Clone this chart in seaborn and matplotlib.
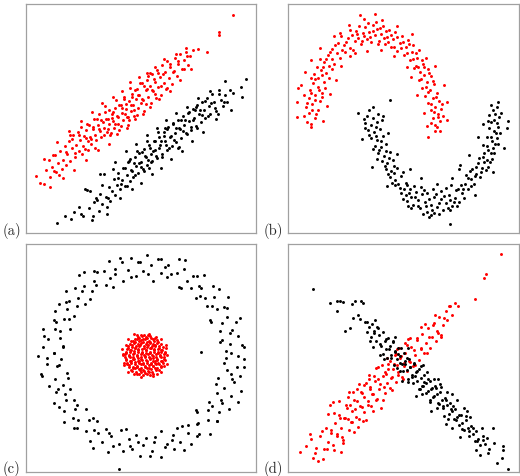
import numpy as np
import pandas as pd
import seaborn as sns
import matplotlib
matplotlib.use("Agg")
import matplotlib.pyplot as plt

# point clouds, (x, y) on a 0-100 grid per panel

# (a) two parallel elongated clouds
a_red = [(4.5,25.0),(7.8,21.5),(8.5,27.6),(9.9,31.8),(10.4,24.5),(11.2,29.0),(12.6,33.9),(13.1,26.7),
         (13.9,30.4),(14.8,35.6),(15.5,27.9),(16.2,32.0),(16.9,37.8),(17.4,29.8),(18.0,34.5),(18.8,40.2),
         (19.3,31.5),(19.9,36.9),(20.5,42.6),(21.1,33.2),(21.8,38.4),(22.4,44.0),(22.9,35.9),(23.5,40.8),
         (24.0,46.1),(24.6,38.0),(25.1,42.5),(25.7,36.6),(26.2,44.9),(26.8,40.3),(27.3,47.3),(27.9,42.0),
         (28.4,38.9),(29.0,45.5),(29.5,49.9),(30.1,43.0),(30.6,40.6),(31.2,47.0),(31.7,51.8),(32.3,44.6),
         (32.8,42.1),(33.4,48.6),(33.9,46.0),(34.5,53.0),(35.0,44.3),(35.6,50.0),(36.1,47.4),(36.7,42.9),
         (37.2,52.1),(37.8,49.0),(38.3,45.8),(38.9,54.6),(39.4,50.9),(40.0,47.6),(40.5,44.9),(41.1,56.0),
         (41.6,52.5),(42.2,49.3),(42.7,58.7),(43.3,54.0),(43.8,50.6),(44.4,47.2),(44.9,57.5),(45.5,53.3),
         (46.0,60.8),(46.6,55.9),(47.1,51.0),(47.7,58.4),(48.2,63.0),(48.8,54.7),(49.3,60.2),(49.9,56.6),
         (50.4,65.4),(51.0,58.1),(51.5,53.4),(52.1,62.3),(52.6,67.0),(53.2,59.5),(53.7,64.4),(54.3,56.8),
         (54.8,69.4),(55.4,61.8),(55.9,66.0),(56.5,58.9),(57.0,71.2),(57.6,63.6),(58.1,68.2),(58.7,60.4),
         (59.2,73.4),(59.8,65.3),(60.3,70.1),(60.9,62.7),(61.4,75.0),(62.0,67.5),(62.6,72.5),(63.3,64.9),
         (64.0,70.3),(64.8,76.3),(65.5,68.4),(66.3,73.6),(67.1,78.2),(68.0,71.5),(68.8,75.5),(69.7,79.0),
         (70.6,73.2),(71.5,77.4),(72.4,80.1),(78.9,79.1),(84.0,87.9),(84.1,86.5),(90.1,95.2),
         (6.2,21.9),(11.8,34.0),(14.3,25.4),(17.6,35.5),(19.0,42.7),(21.5,35.1),(23.2,42.6),(24.4,34.6),
         (25.9,41.4),(26.6,47.6),(28.1,40.9),(29.3,46.3),(30.2,37.1),(31.0,50.0),(31.9,45.2),(32.6,49.5),
         (33.7,42.7),(34.2,55.5),(34.8,49.8),(35.5,45.6),(36.3,53.9),(36.9,43.8),(37.5,50.2),(38.0,52.9),
         (38.7,47.5),(39.2,58.1),(39.9,50.8),(40.4,56.1),(41.3,46.6),(41.9,54.5),(42.4,59.5),(43.1,52.0),
         (43.6,56.5),(44.2,50.6),(45.0,63.2),(45.7,55.9),(46.3,59.3),(47.0,53.8),(47.5,62.4),(48.1,51.6),
         (48.9,60.3),(49.6,65.7),(50.3,58.3),(51.2,64.2),(52.0,56.3),(52.8,62.7),(53.9,70.0),(54.6,62.3),
         (55.5,67.1),(56.3,60.9),(57.4,70.0),(58.6,64.2),(59.5,69.4),(61.1,63.4),(62.8,73.8),(64.5,70.8),
         (66.0,74.9),(68.5,71.5),(70.1,77.4),(74.8,80.4)]
a_red_outer = [(8.0,32.5),(10.5,20.0),(13.5,39.7),(16.0,23.9),(18.5,44.4),(21.0,27.3),(23.8,49.1),
               (26.3,31.8),(28.8,52.7),(31.4,36.4),(33.0,56.9),(35.9,38.9),(37.7,59.4),(39.6,43.2),
               (41.8,61.9),(43.9,45.8),(45.3,66.0),(47.3,49.6),(49.1,68.0),(50.9,51.8),(52.4,70.0),
               (54.1,55.2),(56.1,72.7),(58.0,58.5),(60.2,75.8),(62.4,62.1),(65.1,78.2),(67.0,66.9),
               (69.5,80.9),(71.9,71.4),(12.0,27.2),(20.0,40.9),(27.0,36.1),(44.8,49.5),(53.2,68.6)]
a_black = [(13.4,4.2),(19.5,6.3),(20.7,9.1),(22.9,11.5),(24.8,7.6),(26.5,18.8),(27.4,10.9),(28.7,5.8),
           (29.6,13.4),(30.9,14.2),(31.6,9.7),(32.3,17.1),(33.1,12.5),(33.8,25.8),(34.6,15.8),(35.2,8.3),
           (35.9,20.2),(36.7,14.1),(37.4,18.4),(38.1,23.6),(38.8,16.5),(39.5,21.0),(40.2,26.4),(40.9,19.0),
           (41.6,23.3),(42.3,28.5),(43.0,20.6),(43.7,25.4),(44.4,31.2),(45.1,22.7),(45.8,27.6),(46.5,24.5),
           (47.2,33.0),(47.9,29.3),(48.6,26.0),(49.3,35.1),(50.0,31.0),(50.7,27.8),(51.4,36.5),(52.1,33.2),
           (52.8,29.6),(53.5,38.4),(54.2,34.7),(54.9,31.3),(55.6,40.1),(56.3,36.4),(57.0,32.9),(57.7,42.0),
           (58.4,38.3),(59.1,34.6),(59.8,44.2),(60.5,40.0),(61.2,36.1),(61.9,46.3),(62.6,41.8),(63.3,37.9),
           (64.0,47.5),(64.7,43.6),(65.4,39.7),(66.1,49.3),(66.8,45.2),(67.5,41.6),(68.2,51.0),(68.9,47.1),
           (69.6,43.5),(70.3,52.6),(71.0,48.8),(71.7,45.0),(72.4,54.3),(73.1,50.2),(73.8,46.9),(74.5,56.0),
           (75.2,52.0),(75.9,48.6),(76.6,57.4),(77.3,53.9),(78.0,50.1),(78.7,59.0),(79.4,55.3),(80.1,51.8),
           (80.9,60.5),(81.7,57.0),(82.5,53.2),(83.3,52.1),(84.0,62.3),(84.8,58.2),(85.7,55.4),(86.6,60.4),
           (87.5,57.1),(89.1,53.6),(90.0,61.2),(93.4,63.8),(93.7,59.4),(95.6,67.2),
           (17.0,7.3),(24.0,8.2),(27.9,18.5),(30.3,15.5),(33.0,21.1),(35.6,15.5),(37.9,27.8),(39.8,24.1),
           (41.4,21.2),(42.9,28.2),(44.0,20.5),(45.3,32.5),(46.1,27.2),(46.9,30.4),(47.6,25.5),(48.3,35.6),
           (49.0,30.7),(49.8,28.8),(50.5,35.3),(51.1,26.9),(51.8,33.7),(52.4,40.1),(53.1,31.9),(53.8,37.2),
           (54.5,30.8),(55.2,35.9),(55.9,40.1),(56.6,33.8),(57.3,44.3),(57.9,36.9),(58.6,40.1),(59.3,33.1),
           (60.0,42.5),(60.8,38.3),(61.5,45.3),(62.2,37.3),(63.0,42.4),(63.7,48.1),(64.4,40.5),(65.1,45.8),
           (65.9,37.3),(66.7,45.7),(67.4,49.3),(68.2,44.6),(69.0,49.2),(69.9,43.2),(70.7,52.8),(71.6,46.3),
           (72.5,49.5),(73.5,53.6),(74.4,45.8),(75.5,53.6),(76.6,51.6),(77.8,57.8),(79.1,51.2),(80.5,56.6),
           (82.0,54.8),(83.8,60.9),(86.0,57.3),(88.5,62.3)]
a_black_outer = [(25.5,19.1),(29.0,7.3),(32.0,25.7),(35.0,11.5),(38.5,31.0),(41.0,15.3),(43.5,35.6),
                 (46.0,19.0),(48.0,38.7),(50.2,21.8),(52.5,43.0),(54.7,25.7),(56.9,45.9),(58.9,28.3),
                 (61.0,49.4),(63.1,32.5),(65.4,52.2),(67.8,35.8),(70.0,55.2),(72.3,40.2),(74.9,58.8),
                 (77.1,44.3),(79.9,62.1),(82.8,50.0),(86.5,66.4),(44.7,31.3),(53.4,28.2),(60.3,45.7),
                 (66.4,37.5),(73.9,55.0)]

# (b) two interleaved half moons
b_red = [(10.1,46.4),(8.2,48.5),(11.6,50.1),(9.0,52.3),(12.8,53.6),(7.6,54.9),(10.5,56.2),(13.9,57.5),
         (8.9,58.8),(11.8,60.1),(14.6,61.3),(9.7,62.6),(4.3,63.3),(12.9,63.9),(10.8,65.4),(15.4,66.1),
         (13.0,67.9),(11.2,69.3),(16.6,69.8),(14.3,71.2),(12.4,72.6),(17.9,73.0),(15.6,74.5),(13.8,75.9),
         (19.2,76.1),(17.1,77.8),(21.0,78.4),(19.0,80.5),(23.4,80.1),(21.8,82.8),(25.2,83.5),(23.1,85.9),
         (26.9,81.0),(27.5,86.3),(28.8,83.7),(29.6,88.4),(30.4,85.1),(31.2,95.2),(31.8,82.6),(32.5,87.2),
         (33.4,89.9),(34.1,84.9),(35.0,87.8),(35.9,83.3),(36.6,90.8),(37.7,95.5),(37.5,86.4),(38.6,88.9),
         (39.4,84.0),(40.3,87.1),(41.2,90.3),(42.0,82.7),(42.9,85.8),(43.8,88.5),(44.7,81.4),(45.6,84.5),
         (46.5,87.7),(47.4,79.6),(48.3,82.9),(49.2,86.1),(50.1,77.8),(51.0,81.3),(51.8,84.2),(52.7,75.5),
         (53.5,79.0),(54.3,82.0),(55.2,73.0),(56.0,76.6),(56.8,79.8),(57.3,70.1),(58.4,73.8),(59.6,76.5),
         (56.6,66.9),(58.9,69.0),(60.5,71.7),(58.1,63.4),(60.2,65.8),(61.9,68.4),(59.3,60.0),(61.3,62.4),
         (63.1,64.9),(60.7,56.9),(62.6,58.8),(64.4,61.3),(61.8,53.5),(63.7,55.2),(65.5,57.6),(62.9,50.1),
         (64.8,51.9),(66.4,54.0),(63.6,47.2),(65.6,48.8),(60.4,42.0),(63.8,44.5),(65.9,44.5),
         (9.9,47.8),(6.9,51.0),(12.1,51.9),(10.3,53.9),(8.1,56.9),(11.9,58.2),(14.8,59.2),(7.0,60.2),
         (10.1,61.0),(13.4,62.3),(16.2,63.5),(11.5,67.1),(14.6,69.0),(9.8,67.5),(17.7,67.9),(15.1,72.7),
         (18.9,71.6),(20.1,74.0),(16.4,76.2),(18.3,79.0),(22.3,76.5),(20.4,82.1),(24.5,78.9),(24.1,82.3),
         (26.0,85.0),(22.6,87.4),(28.2,80.0),(27.0,88.8),(29.9,86.9),(30.9,90.2),(33.0,86.0),(32.1,83.9),
         (34.7,91.5),(35.4,85.7),(36.9,88.1),(38.1,92.3),(39.0,82.5),(40.0,89.4),(41.6,85.2),(42.6,88.0),
         (43.3,83.6),(44.4,86.4),(46.1,81.3),(47.0,85.5),(48.8,80.6),(49.7,83.4),(51.4,78.5),(52.3,82.6),
         (54.0,76.1),(55.6,78.4),(54.6,71.9),(57.8,75.5),(56.2,72.6),(59.0,72.4),(57.7,67.4),(61.0,69.9),
         (59.9,63.8),(62.9,66.5),(60.5,61.5),(64.0,59.3),(62.0,56.2),(66.7,56.4),(63.2,53.0),(65.0,50.6),
         (67.2,51.2),(62.1,48.0),(64.6,46.3)]
b_red_outer = [(4.0,50.5),(15.3,49.0),(3.8,57.0),(16.8,55.5),(5.5,64.8),(18.2,60.6),(7.2,70.2),(20.6,67.0),
               (10.1,75.5),(22.9,72.8),(13.9,80.6),(26.8,77.3),(19.8,86.0),(29.0,78.5),(26.2,91.0),
               (34.2,79.4),(33.0,93.6),(40.1,79.8),(40.8,93.0),(46.0,77.2),(47.3,90.6),(51.4,72.6),
               (53.8,86.9),(53.3,68.0),(63.7,73.0),(56.0,60.3),(67.5,64.6),(58.7,52.6),(69.0,57.4),
               (60.2,46.8),(68.7,49.5)]
b_black = [(44.2,58.1),(37.0,55.2),(34.2,51.3),(36.9,50.4),(39.1,52.0),(33.5,48.2),(35.8,47.1),(38.4,48.6),
           (40.6,49.4),(34.6,44.9),(37.2,44.0),(39.7,45.3),(36.1,41.6),(38.6,40.7),(41.2,42.3),(37.7,38.2),
           (40.1,37.5),(42.6,38.9),(39.0,34.9),(41.5,33.8),(44.1,35.2),(40.6,31.3),(43.0,30.5),(45.4,31.9),
           (42.3,27.8),(44.7,26.9),(47.0,28.4),(44.2,24.5),(46.5,23.3),(48.9,25.0),(46.3,20.9),(48.5,19.8),
           (50.9,22.0),(48.8,17.5),(50.9,16.4),(52.9,19.3),(51.5,13.9),(53.3,15.6),(55.2,18.0),(54.1,12.3),
           (56.2,14.4),(57.6,20.3),(57.0,10.8),(59.1,13.6),(60.3,17.5),(60.0,9.3),(61.8,12.2),(63.0,15.6),
           (62.6,19.2),(63.2,8.6),(64.7,11.4),(66.1,14.7),(66.3,18.3),(67.0,9.9),(68.4,13.1),(70.3,4.0),
           (69.5,16.5),(70.4,20.9),(71.0,11.8),(72.3,15.4),(73.4,19.4),(74.6,29.6),(74.1,13.6),(75.5,17.3),
           (76.6,21.5),(76.9,25.3),(78.1,19.2),(79.2,23.4),(79.8,27.8),(80.6,21.6),(81.6,25.9),(82.3,30.4),
           (83.1,24.4),(84.0,28.6),(84.6,33.2),(85.5,27.3),(86.1,31.7),(86.6,36.4),(87.3,30.9),(87.9,35.1),
           (88.3,40.0),(84.4,38.5),(89.2,34.8),(89.6,38.9),(90.0,43.7),(86.2,42.1),(90.5,41.6),(91.1,46.3),
           (87.0,46.0),(89.2,49.5),(91.4,50.8),(94.9,45.7),(86.8,51.7),(88.9,53.7),(87.7,55.9),(90.3,55.0),
           (35.1,53.6),(32.8,50.0),(38.0,46.2),(35.2,42.6),(33.2,45.9),(37.9,42.4),(40.4,40.2),(36.6,36.5),
           (39.6,36.1),(42.3,35.9),(38.6,32.4),(41.9,29.1),(43.9,32.7),(45.8,29.4),(43.4,25.6),(46.1,26.1),
           (47.7,21.6),(49.9,26.7),(45.0,22.0),(50.1,19.1),(51.7,20.9),(52.2,17.5),(49.9,14.7),(54.7,20.6),
           (55.0,15.8),(53.2,11.0),(57.9,16.9),(56.3,12.0),(58.8,18.9),(59.8,11.7),(61.2,15.0),(58.6,8.5),
           (62.2,10.1),(64.0,17.0),(61.0,6.9),(65.2,13.0),(67.5,16.1),(65.5,8.1),(68.6,19.5),(69.2,10.9),
           (71.8,13.7),(72.8,18.6),(70.0,14.6),(74.9,21.0),(73.1,11.9),(76.2,15.5),(77.8,24.0),(75.9,19.2),
           (79.4,20.5),(80.9,24.8),(78.7,27.0),(81.5,28.9),(83.7,26.6),(82.7,32.9),(85.0,31.0),(86.6,28.9),
           (84.9,35.0),(88.3,32.3),(86.3,38.0),(88.8,37.0),(90.7,39.0),(87.7,41.9),(89.0,44.6),(91.8,43.5),
           (88.0,48.3),(90.6,48.0),(92.2,52.5),(89.6,52.1),(86.4,49.0),(91.0,57.3)]
b_black_outer = [(30.5,52.4),(41.0,51.0),(31.9,41.2),(43.3,43.5),(36.5,29.0),(47.3,34.6),(42.7,20.5),
                 (52.6,28.0),(51.8,12.0),(57.6,24.0),(62.1,8.0),(64.5,21.4),(70.0,10.0),(70.8,23.8),
                 (80.9,16.6),(74.0,28.0),(88.6,26.6),(78.5,34.0),(93.7,37.0),(82.4,42.0),(95.3,48.8),
                 (84.5,47.7)]

# (c) ring around a dense disc
c_black = [(92.0,51.0),(87.0,52.9),(94.8,54.8),(88.6,56.3),(84.5,56.9),(92.1,59.7),(88.7,61.1),(84.3,61.8),
           (91.4,65.7),(85.1,65.5),(87.2,67.9),(80.1,66.5),(87.4,72.0),(82.9,71.7),(87.9,76.8),(78.6,72.6),
           (81.6,76.7),(78.0,76.2),(81.4,81.4),(73.7,76.3),(76.1,80.9),(77.5,86.2),(71.7,80.5),(72.7,85.8),
           (70.0,83.9),(66.4,81.3),(68.8,89.1),(65.6,87.2),(66.4,93.3),(61.5,85.4),(61.6,90.6),(58.7,87.2),
           (58.5,93.4),(55.0,83.8),(54.5,90.8),(52.5,95.0),(51.0,88.0),(49.6,92.0),(48.0,85.9),(45.8,93.7),
           (44.4,88.4),(41.6,91.9),(42.2,83.8),(38.6,89.0),(36.0,92.4),(36.5,85.1),(33.7,88.1),(34.6,81.9),
           (29.5,88.2),(29.7,83.7),(25.2,87.9),(28.8,79.4),(25.3,81.6),(27.8,75.9),(21.3,80.7),(22.8,76.4),
           (17.3,79.3),(22.2,72.7),(17.4,74.5),(17.9,71.7),(20.7,68.5),(12.7,70.5),(16.6,67.1),(12.1,66.8),
           (19.0,62.6),(12.8,62.7),(7.5,62.7),(14.8,58.7),(9.6,58.3),(16.2,55.3),(7.2,54.8),(12.0,52.4),
           (5.0,51.0),(15.0,49.7),(9.2,47.3),(13.3,46.4),(6.7,43.2),(17.9,43.4),(12.4,40.6),(10.1,37.7),
           (16.2,38.3),(13.2,35.0),(19.3,36.2),(12.1,30.4),(17.2,31.5),(20.8,31.4),(16.6,26.9),(21.1,27.6),
           (16.5,22.1),(26.1,27.8),(22.7,22.7),(22.2,19.1),(27.2,22.7),(26.3,18.2),(30.9,22.3),(27.7,13.7),
           (31.5,17.2),(34.7,18.9),(33.2,13.0),(36.8,15.8),(35.6,8.7),(41.1,18.5),(40.6,12.4),(42.1,9.0),
           (44.6,14.6),(46.0,10.3),(48.0,16.1),(49.5,7.0),(51.0,12.0),(40.5,1.5),(52.3,15.0),(54.7,9.2),
           (55.6,13.3),(58.8,6.7),(58.7,17.9),(61.4,12.4),(64.3,10.1),(63.7,16.2),(67.0,13.2),(65.8,19.3),
           (71.6,12.1),(70.5,17.2),(70.6,20.8),(75.1,16.6),(74.4,21.1),(79.9,16.5),(74.2,26.1),(79.3,22.7),
           (83.0,22.2),(79.3,27.2),(83.8,26.3),(79.7,30.9),(88.3,27.7),(84.8,31.5),(83.1,34.7),(89.1,33.2),
           (86.2,36.8),(93.3,35.6),(83.5,41.1),(89.6,40.6),(93.1,42.1),(87.4,44.6),(91.7,46.0),(85.9,48.0),
           (95.0,49.5),(76.1,52.6),
           (89.0,52.0),(93.7,55.9),(85.3,58.0),(89.4,62.4),(92.9,67.5),(80.5,65.7),(86.0,72.4),(80.7,73.0),
           (84.0,80.2),(75.8,77.1),(75.3,81.5),(74.2,86.0),(67.2,80.9),(69.3,93.2),(63.1,87.0),(60.3,89.9),
           (57.4,93.5),(53.2,86.9),(48.5,91.9),(45.8,85.6),(40.7,93.8),(38.9,87.0),(37.8,81.3),(31.0,87.9),
           (30.6,81.9),(23.0,86.2),(24.2,79.3),(25.5,73.5),(18.8,74.8),(14.3,73.5),(18.8,67.1),(12.9,66.0),
           (14.6,61.8),(7.9,59.8),(16.2,55.0),(12.0,52.0),(9.0,49.9),(14.2,46.8),(6.9,42.0),(18.4,41.3),
           (13.8,36.3),(17.0,34.0),(14.3,28.5),(22.1,29.6),(20.3,23.8),(20.7,19.1),(29.2,23.6),(29.5,18.5),
           (29.0,10.6),(36.2,17.1),(37.7,11.2),(43.3,18.9),(45.1,11.4),(48.7,13.1),(53.7,7.1),(56.3,15.4),
           (60.6,11.1),(63.4,14.0),(68.9,9.7),(67.7,20.2),(74.2,16.0),(74.7,21.3),(73.7,27.1),(83.2,22.5),
           (80.7,29.0),(85.1,30.1),(92.2,30.5),(82.6,38.5),(90.3,39.4),(89.2,43.2),(94.7,46.0),(87.0,50.1)]
c_red = [(49.1,42.9),(50.8,42.5),(52.5,43.0),(54.1,42.6),
         (46.3,44.5),(48.0,44.0),(49.7,44.6),(51.4,44.1),(53.1,44.4),(54.8,44.0),(56.5,44.6),
         (44.9,46.1),(46.6,45.7),(48.3,46.2),(50.0,45.6),(51.7,46.0),(53.4,45.8),(55.1,46.3),(56.8,45.6),(58.5,46.0),
         (44.1,47.3),(45.8,47.8),(47.5,47.2),(49.2,47.7),(50.9,47.3),(52.6,47.8),(54.3,47.4),(56.0,47.7),(57.7,47.2),(59.4,47.6),
         (43.5,49.3),(45.2,48.9),(46.9,49.4),(48.6,48.8),(50.3,49.2),(52.0,49.0),(53.7,49.4),(55.4,48.9),(57.1,49.3),(58.8,48.8),(60.3,49.2),
         (43.1,50.5),(44.8,50.9),(46.5,50.4),(48.2,50.8),(49.9,50.5),(51.6,50.9),(53.3,50.6),(55.0,51.0),(56.7,50.5),(58.4,50.8),(60.1,50.6),
         (43.6,52.1),(45.3,52.5),(47.0,52.0),(48.7,52.6),(50.4,52.2),(52.1,52.4),(53.8,52.0),(55.5,52.5),(57.2,52.1),(58.9,52.6),(60.4,52.2),
         (43.8,54.1),(45.5,53.7),(47.2,54.2),(48.9,53.8),(50.6,54.0),(52.3,53.6),(54.0,54.2),(55.7,53.8),(57.4,54.1),(59.1,53.7),
         (44.4,55.3),(46.1,55.7),(47.8,55.2),(49.5,55.8),(51.2,55.4),(52.9,55.6),(54.6,55.2),(56.3,55.7),(58.0,55.3),
         (45.6,57.3),(47.3,56.9),(49.0,57.4),(50.7,56.8),(52.4,57.2),(54.1,57.0),(55.8,57.4),(57.5,56.9),
         (47.5,58.5),(49.2,58.9),(50.9,58.4),(52.6,58.8),(54.3,58.6),(56.0,58.9),
         (49.8,60.0),(51.5,60.3),(53.2,59.9),(42.0,51.8),(61.3,51.5),
         (48.2,43.0),(49.9,43.9),(51.7,43.4),(53.3,43.9),(55.1,43.1),
         (45.7,44.7),(47.5,45.6),(49.1,45.2),(50.9,44.7),(52.6,45.5),(54.4,45.0),(56.0,45.6),(57.8,44.9),
         (44.7,47.1),(46.4,46.2),(48.2,46.6),(49.8,47.2),(51.6,46.3),(53.3,47.1),(55.1,46.5),(56.7,47.2),(58.6,46.4),
         (44.0,48.0),(45.7,48.6),(47.4,48.1),(49.1,48.7),(50.7,47.9),(52.5,48.6),(54.2,48.0),(55.9,48.7),(57.6,48.0),(59.3,48.6),
         (43.3,49.6),(45.1,50.3),(46.7,49.7),(48.5,50.2),(50.2,49.6),(51.9,50.3),(53.7,49.8),(55.3,50.2),(57.1,49.6),(58.7,50.3),(60.2,49.7),
         (43.0,51.9),(44.7,51.2),(46.4,51.8),(48.1,51.1),(49.8,51.9),(51.5,51.4),(53.2,51.9),(54.9,51.1),(56.6,51.8),(58.3,51.2),(60.0,51.9),
         (43.5,52.8),(45.1,53.5),(46.9,52.9),(48.6,53.4),(50.3,52.7),(52.1,53.5),(53.8,52.8),(55.5,53.4),(57.2,52.7),(58.9,53.3),(60.3,52.8),
         (44.2,54.4),(45.9,55.0),(47.6,54.3),(49.3,55.1),(51.1,54.4),(52.7,55.0),(54.5,54.3),(56.2,55.1),(57.8,54.4),(59.4,55.0),
         (45.1,56.0),(46.8,56.7),(48.5,56.0),(50.2,56.6),(52.0,56.0),(53.7,56.6),(55.4,56.0),(57.1,56.7),(58.6,56.0),
         (46.5,57.6),(48.2,58.3),(50.0,57.7),(51.7,58.3),(53.5,57.6),(55.2,58.2),(56.9,57.7),
         (48.7,59.0),(50.5,59.7),(52.3,59.1),(54.1,59.6),
         (42.5,47.0),(60.9,55.6),(47.0,60.5),(57.0,43.0),(41.8,53.8),(61.5,47.5),
         (60.7,54.4),(56.5,59.4),(48.4,60.1),(43.4,55.9),(42.7,47.8),(46.9,42.8),(55.0,42.1),(60.0,46.3),
         (53.4,60.6),(50.0,41.6),(42.1,51.1),(58.9,58.3),(44.5,58.3),(44.5,43.9),(58.9,43.9)]

# (d) two crossing clouds
d_red = [(5.1,8.7),(10.8,6.3),(13.0,4.8),(23.1,8.7),(9.4,16.5),(10.1,14.3),(18.1,29.3),(19.5,30.8),
         (8.0,11.4),(12.2,10.6),(14.0,15.8),(15.5,9.9),(16.3,19.4),(17.2,13.3),(18.7,17.0),(19.6,11.8),
         (20.4,21.6),(21.3,15.6),(22.1,25.0),(22.9,19.3),(23.8,14.1),(24.6,23.5),(25.4,28.1),(26.3,18.5),
         (27.1,21.9),(27.9,26.6),(28.7,31.6),(29.6,24.0),(30.4,19.8),(31.2,28.9),(32.0,34.5),(32.9,26.2),
         (33.7,22.7),(34.5,31.3),(35.3,37.2),(36.1,29.1),(36.9,34.0),(37.8,40.0),(38.6,31.8),(39.4,36.4),
         (40.2,27.9),(41.0,42.1),(41.9,34.7),(42.7,39.0),(43.5,45.0),(44.3,36.9),(45.1,41.6),(45.9,47.5),
         (46.8,39.4),(47.6,43.9),(48.4,50.0),(49.2,41.5),(50.0,46.3),(50.8,52.3),(51.7,44.2),(52.5,48.9),
         (53.3,55.0),(54.1,46.7),(54.9,51.5),(55.7,57.9),(56.5,49.3),(57.4,54.0),(58.2,60.4),(59.0,52.0),
         (59.8,56.6),(60.6,63.1),(61.4,54.6),(62.3,59.1),(63.1,65.5),(63.9,57.5),(64.7,61.9),(65.5,67.9),
         (66.4,60.3),(67.3,64.6),(68.2,70.4),(69.0,66.8),(70.0,72.8),(71.1,68.9),(72.3,74.0),(73.7,72.9),
         (80.9,75.9),(85.5,86.9),(85.0,85.0),(92.1,95.5),(44.0,48.5),(46.2,51.2),(48.0,54.3),(50.5,56.5),
         (52.7,58.6),(47.3,46.8),(42.2,44.0),(38.0,45.5),(35.0,41.0),(30.0,36.5),(26.0,32.7),(33.0,38.3),
         (11.5,8.4),(14.8,18.1),(16.9,10.1),(18.4,18.4),(19.8,25.7),(21.0,16.6),(22.4,23.9),(23.5,15.5),
         (24.3,23.6),(25.1,29.3),(26.0,23.1),(26.8,29.4),(27.6,21.8),(28.3,35.0),(29.1,27.5),(29.9,31.1),
         (30.6,23.4),(31.4,35.1),(32.2,28.5),(33.1,33.0),(33.9,39.2),(34.7,29.6),(35.6,36.3),(36.4,34.2),
         (37.2,42.0),(38.1,31.6),(38.9,40.9),(39.8,38.6),(40.7,46.8),(41.6,37.5),(42.5,42.9),(43.4,47.3),
         (44.5,41.2),(45.5,45.1),(46.6,51.6),(47.8,42.4),(49.0,50.8),(50.3,47.8),(51.6,55.7),(53.0,48.4),
         (54.4,53.6),(56.0,58.9),(57.6,54.6),(59.3,64.8),(61.0,59.2),(62.9,64.3),(65.0,61.0),(67.5,67.6)]
d_red_outer = [(15.0,5.5),(17.5,25.5),(20.0,9.5),(22.0,31.0),(24.0,12.8),(26.5,35.1),(28.5,17.7),
               (30.8,38.8),(32.6,22.3),(34.9,42.6),(36.8,26.8),(39.0,46.2),(41.2,31.7),(43.0,50.0),
               (45.0,36.0),(47.2,53.8),(49.6,40.8),(52.0,58.5),(54.8,46.8),(57.5,63.7),(60.0,52.2),
               (63.7,68.7),(66.2,59.2),(69.8,72.8)]
d_black = [(10.8,80.2),(18.1,74.0),(21.0,75.2),(22.4,75.2),(23.8,74.4),(21.4,70.7),(27.5,73.7),(28.9,75.2),
           (31.8,75.2),(32.5,74.0),(30.3,68.7),(31.0,66.9),(24.6,61.7),(26.7,63.2),(28.2,67.4),
           (33.5,66.0),(34.2,61.2),(35.0,63.8),(35.8,59.0),(36.5,65.1),(37.3,61.7),(38.0,57.6),(38.8,63.0),
           (39.5,59.9),(40.3,55.4),(41.0,61.3),(41.8,57.4),(42.5,53.8),(43.3,58.7),(44.0,55.1),(44.8,51.4),
           (45.5,56.8),(46.3,53.0),(47.0,49.4),(47.8,54.5),(48.5,50.9),(49.3,47.2),(50.0,52.0),(50.8,48.6),
           (51.5,44.9),(52.3,49.6),(53.0,46.0),(53.8,42.4),(54.5,47.3),(55.3,43.7),(56.0,40.1),(56.8,45.0),
           (57.5,41.4),(58.3,37.6),(59.0,42.6),(59.8,39.0),(60.5,35.4),(61.3,40.1),(62.0,36.6),(62.8,33.0),
           (63.5,37.7),(64.3,34.1),(65.0,30.4),(65.8,35.0),(66.5,31.6),(67.3,28.1),(68.0,32.6),(68.8,29.2),
           (69.5,25.6),(70.3,30.1),(71.0,26.7),(71.8,23.2),(72.5,27.6),(73.3,24.2),(74.0,20.7),(74.8,25.1),
           (75.5,21.6),(76.3,18.4),(77.0,22.8),(77.8,19.3),(78.5,15.9),(79.3,20.2),(80.0,16.8),(80.8,13.4),
           (81.6,18.1),(82.4,14.6),(83.1,7.5),(83.3,11.9),(84.3,16.0),(85.2,12.4),(86.3,14.8),(87.1,10.3),
           (88.9,19.5),(89.0,12.6),(92.5,6.0),(93.2,11.3),(93.2,9.8),(95.1,1.5),
           (54.0,39.0),(57.0,36.5),(60.0,44.0),(63.0,41.0),(66.0,38.5),(69.0,35.0),(58.0,34.0),(61.5,31.5),
           (64.5,28.0),(52.0,41.0),(48.5,44.5),(46.0,47.0),(43.0,50.0),(40.0,51.5),(37.0,55.0),(73.0,31.5),
           (76.0,28.0),(71.0,19.5),(79.0,24.0),(67.5,24.5),
           (34.0,65.7),(35.7,57.6),(37.1,60.9),(38.6,63.5),(39.9,56.0),(41.2,51.6),(42.4,58.4),(43.7,53.9),
           (44.6,50.1),(45.4,57.5),(46.2,52.5),(47.0,45.5),(47.7,51.8),(48.4,48.0),(49.1,54.6),(49.9,44.1),
           (50.6,47.4),(51.4,49.9),(52.1,39.3),(52.9,46.2),(53.6,41.7),(54.4,47.6),(55.1,42.0),(55.9,44.5),
           (56.7,36.6),(57.4,46.7),(58.2,37.6),(59.0,39.4),(59.8,34.7),(60.7,40.9),(61.5,30.6),(62.4,37.0),
           (63.3,33.4),(64.2,36.8),(65.2,29.8),(66.1,37.1),(67.1,29.1),(68.2,31.7),(69.3,23.4),(70.4,27.5),
           (71.6,29.1),(72.8,22.7),(74.1,24.8),(75.5,18.7),(76.9,24.6),(78.4,18.2),(80.1,19.5),(82.0,13.7),
           (84.2,13.9),(86.7,8.4)]
d_black_outer = [(46.5,59.0),(49.5,39.8),(51.8,54.2),(55.6,33.5),(58.5,47.0),(62.0,26.9),(64.8,40.9),
                 (68.5,21.0),(71.2,34.1),(74.5,15.5),(77.6,26.9),(81.2,9.8),(84.0,19.5),(90.5,4.0),
                 (37.5,66.8),(41.5,49.4)]

panels = [("(a)", a_red + a_red_outer, a_black + a_black_outer),
          ("(b)", b_red + b_red_outer, b_black + b_black_outer),
          ("(c)", c_red, c_black),
          ("(d)", d_red + d_red_outer, d_black + d_black_outer)]

sns.set_style("white")

W, H = 520, 476
fig = plt.figure(figsize=(W / 100, H / 100), dpi=100)

# axes boxes in pixels: left, top, right, bottom
boxes = [(26, 4, 256, 233), (288, 4, 519, 233),
         (26, 244, 256, 472), (288, 244, 519, 472)]
label_pos = [(3, 235), (264, 235), (3, 473), (264, 473)]

for (lab, red, black), (l, t, r, b), (lx, ly) in zip(panels, boxes, label_pos):
    ax = fig.add_axes([l / W, 1 - b / H, (r - l) / W, (b - t) / H])
    df = pd.concat([
        pd.DataFrame(red, columns=["x", "y"]).assign(c="red"),
        pd.DataFrame(black, columns=["x", "y"]).assign(c="black"),
    ])
    order = ["black", "red"] if lab == "(c)" else ["red", "black"]
    for cname in order:
        sub = df[df["c"] == cname]
        sns.scatterplot(data=sub, x="x", y="y", color="#ff0000" if cname == "red" else "black",
                        s=4.5, linewidth=0, ax=ax, legend=False)
    ax.set_xlim(0, 100)
    ax.set_ylim(0, 100)
    ax.set_xticks([])
    ax.set_yticks([])
    ax.set_xlabel("")
    ax.set_ylabel("")
    for sp in ax.spines.values():
        sp.set_visible(True)
        sp.set_color("#a0a0a0")
        sp.set_linewidth(0.9)
    fig.text(lx / W, 1 - ly / H, lab, fontfamily="cmr10", fontsize=10.5,
             ha="left", va="baseline")

fig.savefig("out.png", dpi=100)
